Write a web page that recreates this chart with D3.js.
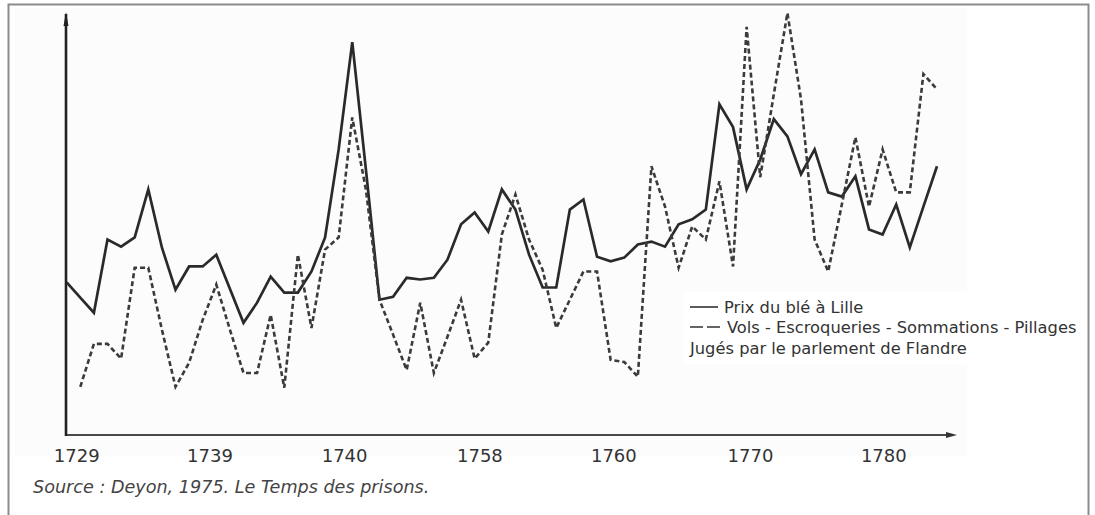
<!DOCTYPE html>
<html>
<head>
<meta charset="utf-8">
<script src="https://cdn.jsdelivr.net/npm/d3@7/dist/d3.min.js"></script>
<style>
  body { margin: 0; background: #fff; }
  svg { display: block; }
</style>
</head>
<body>
<svg id="main-svg" width="1095" height="515"></svg>
<script>
// values, relative scale 0-100 (no y labels in the original)
const prixBle = [36.0, 32.4, 28.8, 46.2, 44.5, 46.7, 58.1, 44.3, 34.3, 39.8,
  39.8, 42.6, 34.5, 26.4, 31.2, 37.4, 33.6, 33.6, 38.6, 46.7,
  67.6, 93.1, 62.9, 31.9, 32.6, 37.1, 36.7, 37.1, 41.4, 49.8,
  52.6, 48.1, 58.1, 53.3, 42.6, 34.8, 34.8, 53.3, 55.7, 42.1,
  41.0, 41.9, 45.0, 45.7, 44.5, 49.8, 51.0, 53.3, 78.3, 72.9,
  58.1, 65.2, 74.8, 70.7, 61.7, 67.6, 57.4, 56.4, 61.2, 48.6,
  47.4, 54.5, 44.3, 54.0, 63.6];

const vols = [null, 11.2, 21.4, 21.4, 17.9, 39.5, 39.5, 24.8, 11.2, 16.9,
  27.1, 35.5, 24.8, 14.5, 14.5, 28.3, 11.0, 42.6, 25.2, 43.8,
  46.7, 75.2, 58.1, 31.9, 23.6, 15.2, 31.2, 14.5, 23.1, 31.9,
  17.9, 21.7, 47.4, 56.9, 46.2, 39.0, 25.2, 31.9, 38.6, 38.6,
  17.6, 17.1, 13.6, 63.6, 54.0, 39.5, 49.3, 46.2, 60.0, 39.8,
  96.7, 61.0, 80.7, 100, 79.5, 46.2, 38.6, 54.5, 70.5, 54.0,
  67.6, 57.4, 57.4, 85.5, 81.9];

// the printed year labels are not evenly spaced in time, so they sit on index positions
const tickLabels = ['1729', '1739', '1740', '1758', '1760', '1770', '1780'];
const tickAt = [0.7, 10.5, 20.4, 30.35, 40.2, 50.25, 60.05];

const legendLabels = ['Prix du blé à Lille', 'Vols - Escroqueries - Sommations - Pillages', 'Jugés par le parlement de Flandre'];
const sourceText = 'Source : Deyon, 1975. Le Temps des prisons.';

const svg = d3.select('#main-svg');

const x = d3.scaleLinear().domain([0, prixBle.length - 1]).range([66.7, 937]);
const y = d3.scaleLinear().domain([0, 100]).range([434, 13]);

// frame and scan background
svg.append('rect')
  .attr('x', 15).attr('y', 8).attr('width', 952).attr('height', 448)
  .attr('fill', '#fcfcfc');
svg.append('rect')
  .attr('x', 8.5).attr('y', 4.5).attr('width', 1080).attr('height', 530)
  .attr('fill', 'none').attr('stroke', '#8c8c8c').attr('stroke-width', 2);

const blur = svg.append('defs').append('filter').attr('id', 'scan');
blur.append('feGaussianBlur').attr('stdDeviation', 0.45);

// x axis
const xAxis = svg.append('g')
  .attr('transform', 'translate(0,435)')
  .call(d3.axisBottom(x)
    .tickValues(tickAt)
    .tickFormat((d, i) => tickLabels[i])
    .tickSize(0)
    .tickPadding(14));
xAxis.select('.domain').remove();
xAxis.selectAll('text')
  .attr('font-family', 'DejaVu Sans, sans-serif')
  .attr('font-size', 18)
  .attr('fill', '#333');

svg.append('line')
  .attr('x1', x.range()[0] - 1).attr('x2', 950)
  .attr('y1', 435).attr('y2', 435)
  .attr('stroke', '#4a4a4a').attr('stroke-width', 2);
svg.append('path')
  .attr('d', 'M957,435 L946,432 L946,438 Z')
  .attr('fill', '#333');

// y axis (no labels in the original)
svg.append('line')
  .attr('x1', 66).attr('x2', 66)
  .attr('y1', 14).attr('y2', 436)
  .attr('stroke', '#222').attr('stroke-width', 2.6);
svg.append('path')
  .attr('d', 'M66,12 L63.5,26 L68.5,26 Z')
  .attr('fill', '#222');

const line = d3.line()
  .defined(d => d != null)
  .x((d, i) => x(i))
  .y(d => y(d));

svg.append('path')
  .datum(prixBle)
  .attr('d', line)
  .attr('fill', 'none')
  .attr('stroke', '#2b2b2b')
  .attr('stroke-width', 2.7)
  .attr('filter', 'url(#scan)');

svg.append('path')
  .datum(vols)
  .attr('d', line)
  .attr('fill', 'none')
  .attr('stroke', '#3a3a3a')
  .attr('stroke-width', 2.6)
  .attr('stroke-dasharray', '5,3')
  .attr('filter', 'url(#scan)');

// legend
const legend = svg.append('g');
legend.append('rect')
  .attr('x', 684).attr('y', 292).attr('width', 403).attr('height', 72)
  .attr('fill', '#fff');
legend.append('line')
  .attr('x1', 690).attr('x2', 718).attr('y1', 307).attr('y2', 307)
  .attr('stroke', '#333').attr('stroke-width', 1.6);
legend.append('line')
  .attr('x1', 690).attr('x2', 722).attr('y1', 327).attr('y2', 327)
  .attr('stroke', '#333').attr('stroke-width', 1.6)
  .attr('stroke-dasharray', '13,4');

const legendPos = [[724, 313], [727, 333], [690, 354]];
legend.selectAll('text')
  .data(legendLabels)
  .join('text')
  .attr('x', (d, i) => legendPos[i][0])
  .attr('y', (d, i) => legendPos[i][1])
  .attr('font-family', 'DejaVu Sans, sans-serif')
  .attr('font-size', 16.3)
  .attr('fill', '#333')
  .text(d => d);

svg.append('text')
  .attr('x', 33).attr('y', 493)
  .attr('font-family', 'DejaVu Sans, sans-serif')
  .attr('font-style', 'italic')
  .attr('font-size', 17.6)
  .attr('fill', '#444')
  .text(sourceText);
</script>
</body>
</html>
